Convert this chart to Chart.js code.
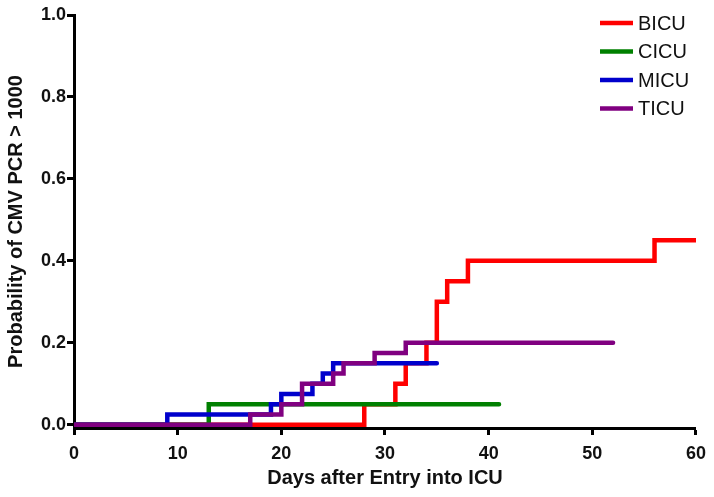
<!DOCTYPE html>
<html>
<head>
<meta charset="utf-8">
<script src="https://cdn.jsdelivr.net/npm/chart.js@4/dist/chart.umd.min.js"></script>
<style>
  html, body { margin: 0; padding: 0; background: #fff; }
  #wrap { width: 714px; height: 497px; position: relative; }
</style>
</head>
<body>
<div id="wrap"><canvas id="km"></canvas></div>
<script>
// series names
const unitNames = ['BICU', 'CICU', 'MICU', 'TICU'];

// step curves: day of each event and the cumulative probability after it
const bicuDays = [0, 28, 31, 32, 34, 35, 36, 38, 56, 60];
const bicuProb = [0, 0.05, 0.10, 0.15, 0.20, 0.30, 0.35, 0.40, 0.45, 0.45];
const cicuDays = [0, 13, 41];
const cicuProb = [0, 0.05, 0.05];
const micuDays = [0, 9, 19, 20, 23, 24, 25, 35];
const micuProb = [0, 0.025, 0.05, 0.075, 0.10, 0.125, 0.15, 0.15];
const ticuDays = [0, 17, 20, 22, 25, 26, 29, 32, 52];
const ticuProb = [0, 0.025, 0.05, 0.10, 0.125, 0.15, 0.175, 0.20, 0.20];

const yTicks = [0, 0.2, 0.4, 0.6, 0.8, 1.0];

const unitColors = ['#ff0000', '#008000', '#0000cc', '#800080'];
const FONT = 'Liberation Sans, Arial, Helvetica, sans-serif';

function toPoints(days, prob) {
    return days.map((d, i) => ({ x: d, y: prob[i] }));
}

const curves = [
    toPoints(bicuDays, bicuProb),
    toPoints(cicuDays, cicuProb),
    toPoints(micuDays, micuProb),
    toPoints(ticuDays, ticuProb)
];

const datasets = curves.map((pts, i) => ({
    label: unitNames[i],
    data: pts,
    borderColor: unitColors[i],
    backgroundColor: unitColors[i],
    borderWidth: 4.5,
    borderCapStyle: 'round',
    borderJoinStyle: 'miter',
    stepped: true,
    pointRadius: 0,
    fill: false,
    order: unitNames.length - i   // red at the bottom, purple on top
}));

// legend drawn inside the plot, top right
const insideLegend = {
    id: 'insideLegend',
    afterDatasetsDraw(chart) {
        const ctx = chart.ctx;
        ctx.save();
        ctx.font = '20px ' + FONT;
        ctx.textBaseline = 'middle';
        ctx.textAlign = 'left';
        unitNames.forEach((name, i) => {
            const y = chart.chartArea.top + 8 + i * 28.5;
            ctx.strokeStyle = unitColors[i];
            ctx.lineWidth = 4.5;
            ctx.beginPath();
            ctx.moveTo(600, y);
            ctx.lineTo(633, y);
            ctx.stroke();
            ctx.fillStyle = '#111';
            ctx.fillText(name, 638, y + 1);
        });
        ctx.restore();
    }
};

const axisTicks = {
    display: true,
    drawOnChartArea: false,
    drawTicks: true,
    tickLength: 7,
    tickWidth: 3,
    tickColor: '#000'
};

new Chart(document.getElementById('km'), {
    type: 'line',
    data: { datasets: datasets },
    plugins: [insideLegend],
    options: {
        responsive: true,
        maintainAspectRatio: false,
        animation: false,
        layout: { padding: { top: 15, right: 17, left: 0, bottom: 0 } },
        plugins: {
            legend: { display: false },
            tooltip: { enabled: false }
        },
        scales: {
            x: {
                type: 'linear',
                min: 0,
                max: 60,
                afterFit: s => { s.height = 69; },
                border: { display: true, color: '#000', width: 3 },
                grid: axisTicks,
                ticks: {
                    stepSize: 10,
                    color: '#111',
                    padding: 8,
                    maxRotation: 0,
                    font: { family: FONT, size: 18, weight: 'bold' }
                },
                title: {
                    display: true,
                    text: 'Days after Entry into ICU',
                    color: '#111',
                    padding: { top: 0, bottom: 7 },
                    font: { family: FONT, size: 20, weight: 'bold' }
                }
            },
            y: {
                type: 'linear',
                min: -0.008,
                max: 1.0,
                afterFit: s => { s.width = 74; },
                afterBuildTicks: s => { s.ticks = yTicks.map(v => ({ value: v })); },
                border: { display: true, color: '#000', width: 3 },
                grid: axisTicks,
                ticks: {
                    color: '#111',
                    padding: 1,
                    callback: v => Number(v).toFixed(1),
                    font: { family: FONT, size: 18, weight: 'bold' }
                },
                title: {
                    display: true,
                    text: 'Probability of CMV PCR > 1000',
                    color: '#111',
                    padding: { top: 4, bottom: 0 },
                    font: { family: FONT, size: 20, weight: 'bold' }
                }
            }
        }
    }
});
</script>
</body>
</html>
